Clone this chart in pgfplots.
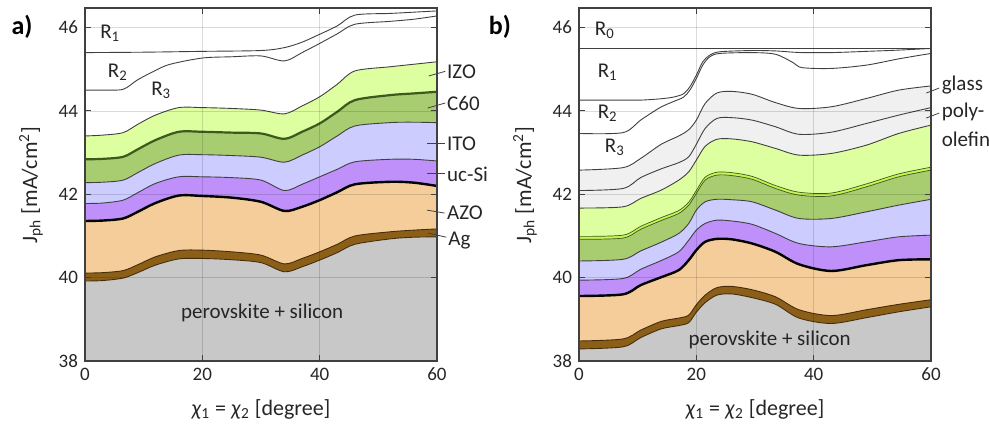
\documentclass[border=0pt]{standalone}
\usepackage{fontspec}
\setmainfont{Carlito}
\usepackage{pgfplots}
\pgfplotsset{compat=1.18}
\usepackage{pgfplotstable}

\definecolor{cgray}{RGB}{200,200,200}
\definecolor{cag}{RGB}{140,95,25}
\definecolor{cagedge}{RGB}{70,45,10}
\definecolor{cazo}{RGB}{245,205,155}
\definecolor{cucsi}{RGB}{192,144,250}
\definecolor{cito}{RGB}{204,204,255}
\definecolor{cc60}{RGB}{168,204,112}
\definecolor{cc60edge}{RGB}{60,90,30}
\definecolor{cizo}{RGB}{222,255,160}
\definecolor{cstrip}{RGB}{200,245,80}
\definecolor{cpoly}{RGB}{240,240,240}
\definecolor{cline}{RGB}{64,64,64}
\definecolor{ctext}{RGB}{38,38,38}

\pgfplotstableread{
x    per   ag    azo   ucsi  ito   c60   izo
0    39.92 40.11 41.36 41.78 42.28 42.84 43.40
3    39.93 40.12 41.37 41.79 42.29 42.85 43.42
6.5  39.99 40.17 41.42 41.86 42.34 42.90 43.48
9    40.12 40.31 41.58 42.04 42.52 43.08 43.68
12   40.30 40.50 41.79 42.26 42.74 43.30 43.90
16   40.45 40.65 41.97 42.42 42.94 43.50 44.08
20   40.46 40.66 41.96 42.42 42.95 43.50 44.08
25   40.43 40.62 41.92 42.40 42.93 43.48 44.06
30   40.36 40.54 41.82 42.34 42.89 43.46 44.02
34   40.14 40.33 41.60 42.09 42.77 43.33 43.93
37   40.26 40.46 41.70 42.24 42.94 43.50 44.12
40   40.42 40.62 41.86 42.42 43.14 43.70 44.34
43   40.60 40.80 42.05 42.60 43.40 43.98 44.64
46   40.80 41.00 42.24 42.78 43.64 44.26 44.96
52   40.93 41.10 42.30 42.84 43.72 44.38 45.06
56   40.97 41.14 42.28 42.84 43.73 44.42 45.12
60   40.98 41.17 42.20 42.80 43.72 44.46 45.18
}\tabA

\pgfplotstableread{
x    y
0    44.50
3    44.50
6.5  44.52
9    44.75
12   44.97
14.5 45.12
20   45.27
25   45.30
30   45.32
34   45.20
37   45.40
40   45.62
43   45.85
46   46.08
52   46.15
56   46.20
60   46.28
}\tabAr

\pgfplotstableread{
x    y
0    45.40
10   45.41
20   45.43
30   45.45
34   45.52
37   45.65
40   45.84
43   46.04
46   46.30
52   46.34
56   46.37
60   46.40
}\tabAq

\pgfplotstableread{
x    per   ag    azo   ucsi  ito   c60   strip izo   poly  glass
0    38.29 38.48 39.56 39.94 40.40 40.92 40.99 41.67 42.09 42.58
7.5  38.34 38.53 39.60 39.98 40.44 40.95 41.02 41.70 42.14 42.64
10.5 38.56 38.74 39.82 40.20 40.64 41.16 41.23 41.90 42.40 42.86
14   38.77 38.95 40.01 40.41 40.85 41.37 41.44 42.10 42.61 43.20
17   38.85 39.03 40.18 40.62 41.06 41.54 41.61 42.34 42.76 43.40
18.7 38.92 39.10 40.42 40.90 41.30 41.74 41.81 42.54 42.90 43.55
20   39.17 39.35 40.66 41.14 41.62 42.02 42.09 42.82 43.20 43.78
21.5 39.40 39.58 40.86 41.30 41.82 42.34 42.41 43.15 43.58 44.18
23.5 39.58 39.76 40.93 41.38 41.88 42.46 42.53 43.32 43.82 44.43
26   39.61 39.79 40.92 41.36 41.87 42.45 42.52 43.33 43.84 44.47
29.5 39.52 39.71 40.82 41.28 41.82 42.36 42.43 43.26 43.78 44.40
33.5 39.36 39.54 40.62 41.06 41.62 42.14 42.21 43.10 43.62 44.20
37.5 39.03 39.23 40.32 40.82 41.42 41.98 42.05 42.94 43.44 44.06
43   38.90 39.09 40.16 40.74 41.42 41.96 42.03 42.98 43.49 44.10
49   39.04 39.23 40.30 40.86 41.58 42.18 42.25 43.18 43.70 44.30
54.5 39.18 39.36 40.42 40.98 41.74 42.42 42.49 43.46 43.90 44.50
60   39.30 39.47 40.44 41.02 41.88 42.58 42.65 43.66 44.08 44.60
}\tabB

\pgfplotstableread{
x    a     b
0    44.26 43.46
7.5  44.26 43.48
10.5 44.26 43.78
13.8 44.29 44.08
16   44.33 44.22
17.8 44.41 44.33
18.9 44.58 44.50
20   44.86 44.78
21.1 45.18 45.10
22.3 45.34 45.30
24   45.42 45.38
29.5 45.45 45.40
33.5 45.44 45.36
36.5 45.41 45.16
38   45.40 45.04
43   45.40 45.02
49   45.43 45.10
54.5 45.46 45.25
60   45.50 45.38
}\tabBr

\pgfplotsset{
  myax/.style={
    scale only axis, width=176pt, height=176.5pt,
    xmin=0, xmax=60, ymin=38, ymax=46.47,
    xtick={0,20,40,60}, ytick={38,40,42,44,46},
    tick align=inside, major tick length=3pt,
    grid=major, grid style={black, opacity=0.14, line width=0.45pt},
    axis on top, clip mode=individual,
    axis line style={draw=black!75, line width=0.6pt},
    tick style={draw=black!75, line width=0.5pt},
    ticklabel style={font=\fontsize{9.5}{10}\selectfont, text=ctext},
    /pgf/number format/assume math mode=true,
  },
  fl/.style={draw=none, fill=#1, smooth, tension=0.5, forget plot},
  ln/.style={draw=#1, smooth, tension=0.5, forget plot, line width=0.45pt},
}

\begin{document}
\begin{tikzpicture}
\path[use as bounding box] (0,0) rectangle (494.5pt,214.5pt);

% ---------------- panel a ----------------
\begin{axis}[myax, at={(42.5pt,34pt)}, anchor=south west]
\addplot[fl=cizo]  table[x=x,y=izo]  {\tabA} \closedcycle;
\addplot[fl=cc60]  table[x=x,y=c60]  {\tabA} \closedcycle;
\addplot[fl=cito]  table[x=x,y=ito]  {\tabA} \closedcycle;
\addplot[fl=cucsi] table[x=x,y=ucsi] {\tabA} \closedcycle;
\addplot[fl=cazo]  table[x=x,y=azo]  {\tabA} \closedcycle;
\addplot[fl=cag]   table[x=x,y=ag]   {\tabA} \closedcycle;
\addplot[fl=cgray] table[x=x,y=per]  {\tabA} \closedcycle;
\addplot[ln=cline] table[x=x,y=izo]  {\tabA};
\addplot[ln=cc60edge, line width=1.1pt] table[x=x,y=c60] {\tabA};
\addplot[ln=cline] table[x=x,y=ito]  {\tabA};
\addplot[ln=cline] table[x=x,y=ucsi] {\tabA};
\addplot[ln=black, line width=1.2pt] table[x=x,y=azo] {\tabA};
\addplot[ln=cagedge] table[x=x,y=ag]  {\tabA};
\addplot[ln=cagedge] table[x=x,y=per] {\tabA};
\addplot[ln=cline] table[x=x,y=y] {\tabAr};
\addplot[ln=cline] table[x=x,y=y] {\tabAq};

\node[font=\fontsize{10.5}{11}\selectfont, text=ctext] at (axis cs:4.3,45.87) {R\textsubscript{1}};
\node[font=\fontsize{10.5}{11}\selectfont, text=ctext] at (axis cs:5.6,44.93) {R\textsubscript{2}};
\node[font=\fontsize{10.5}{11}\selectfont, text=ctext] at (axis cs:13,44.5) {R\textsubscript{3}};
\node[font=\fontsize{10.5}{11}\selectfont, text=ctext] at (axis cs:30.2,39.15) {perovskite + silicon};

\begin{scope}[every node/.style={font=\fontsize{10.5}{11}\selectfont, text=ctext, anchor=west, inner sep=0.5pt}]
\draw[cline, line width=0.4pt] (axis cs:58.6,44.84) -- (axis cs:61.4,44.95);
\node at (axis cs:61.5,44.93) {IZO};
\draw[cline, line width=0.4pt] (axis cs:58.4,44.07) -- (axis cs:61.4,44.19);
\node at (axis cs:61.5,44.19) {C60};
\draw[cline, line width=0.4pt] (axis cs:58.3,43.21) -- (axis cs:61.3,43.21);
\node at (axis cs:61.5,43.21) {ITO};
\draw[cline, line width=0.4pt] (axis cs:58.3,42.49) -- (axis cs:61.3,42.49);
\node at (axis cs:61.5,42.49) {uc-Si};
\draw[cline, line width=0.4pt] (axis cs:58.3,41.62) -- (axis cs:61.3,41.55);
\node at (axis cs:61.5,41.55) {AZO};
\draw[cline, line width=0.4pt] (axis cs:58.5,41.07) -- (axis cs:61.6,40.97);
\node at (axis cs:61.7,40.90) {Ag};
\end{scope}
\end{axis}

% ---------------- panel b ----------------
\begin{axis}[myax, at={(289.5pt,34pt)}, anchor=south west]
\addplot[fl=cpoly]  table[x=x,y=glass] {\tabB} \closedcycle;
\addplot[fl=cpoly]  table[x=x,y=poly]  {\tabB} \closedcycle;
\addplot[fl=cizo]   table[x=x,y=izo]   {\tabB} \closedcycle;
\addplot[fl=cstrip] table[x=x,y=strip] {\tabB} \closedcycle;
\addplot[fl=cc60]   table[x=x,y=c60]   {\tabB} \closedcycle;
\addplot[fl=cito]   table[x=x,y=ito]   {\tabB} \closedcycle;
\addplot[fl=cucsi]  table[x=x,y=ucsi]  {\tabB} \closedcycle;
\addplot[fl=cazo]   table[x=x,y=azo]   {\tabB} \closedcycle;
\addplot[fl=cag]    table[x=x,y=ag]    {\tabB} \closedcycle;
\addplot[fl=cgray]  table[x=x,y=per]   {\tabB} \closedcycle;
\addplot[ln=cline] table[x=x,y=glass] {\tabB};
\addplot[ln=cline] table[x=x,y=poly]  {\tabB};
\addplot[ln=cline] table[x=x,y=izo]   {\tabB};
\addplot[ln=cc60edge, line width=0.35pt] table[x=x,y=strip] {\tabB};
\addplot[ln=cc60edge, line width=0.35pt] table[x=x,y=c60]   {\tabB};
\addplot[ln=cline] table[x=x,y=ito]   {\tabB};
\addplot[ln=cline] table[x=x,y=ucsi]  {\tabB};
\addplot[ln=black, line width=1.2pt] table[x=x,y=azo] {\tabB};
\addplot[ln=cagedge] table[x=x,y=ag]  {\tabB};
\addplot[ln=cagedge] table[x=x,y=per] {\tabB};
\addplot[ln=cline] table[x=x,y=a] {\tabBr};
\addplot[ln=cline] table[x=x,y=b] {\tabBr};
\addplot[ln=cline, line width=0.7pt] coordinates {(0,45.5) (60,45.5)};

\node[font=\fontsize{10.5}{11}\selectfont, text=ctext] at (axis cs:4.4,45.94) {R\textsubscript{0}};
\node[font=\fontsize{10.5}{11}\selectfont, text=ctext] at (axis cs:4.9,44.93) {R\textsubscript{1}};
\node[font=\fontsize{10.5}{11}\selectfont, text=ctext] at (axis cs:4.9,43.95) {R\textsubscript{2}};
\node[font=\fontsize{10.5}{11}\selectfont, text=ctext] at (axis cs:6.1,43.13) {R\textsubscript{3}};
\node[font=\fontsize{10.5}{11}\selectfont, text=ctext] at (axis cs:32.5,38.5) {perovskite + silicon};

\begin{scope}[every node/.style={font=\fontsize{10.5}{11}\selectfont, text=ctext, anchor=west, inner sep=0.5pt}]
\draw[cline, line width=0.4pt] (axis cs:59.2,44.43) -- (axis cs:61.4,44.55);
\node at (axis cs:61.6,44.62) {glass};
\draw[cline, line width=0.4pt] (axis cs:59.2,43.83) -- (axis cs:61.4,43.95);
\node at (axis cs:61.6,43.97) {poly-};
\node at (axis cs:61.6,43.32) {olefin};
\end{scope}
\end{axis}

% ---------------- labels ----------------
\node[font=\bfseries\fontsize{13}{13}\selectfont] at (11pt,201pt) {a)};
\node[font=\bfseries\fontsize{13}{13}\selectfont] at (250pt,201pt) {b)};

\node[rotate=90, font=\fontsize{11}{12}\selectfont, text=ctext] at (15.5pt,122pt) {J\textsubscript{ph} [mA/cm\textsuperscript{2}]};
\node[rotate=90, font=\fontsize{11}{12}\selectfont, text=ctext] at (262.5pt,122pt) {J\textsubscript{ph} [mA/cm\textsuperscript{2}]};

\node[font=\fontsize{11}{12}\selectfont, text=ctext] at (130.5pt,10pt) {\textit{χ}\textsubscript{1} = \textit{χ}\textsubscript{2} [degree]};
\node[font=\fontsize{11}{12}\selectfont, text=ctext] at (377.5pt,10pt) {\textit{χ}\textsubscript{1} = \textit{χ}\textsubscript{2} [degree]};
\end{tikzpicture}
\end{document}
